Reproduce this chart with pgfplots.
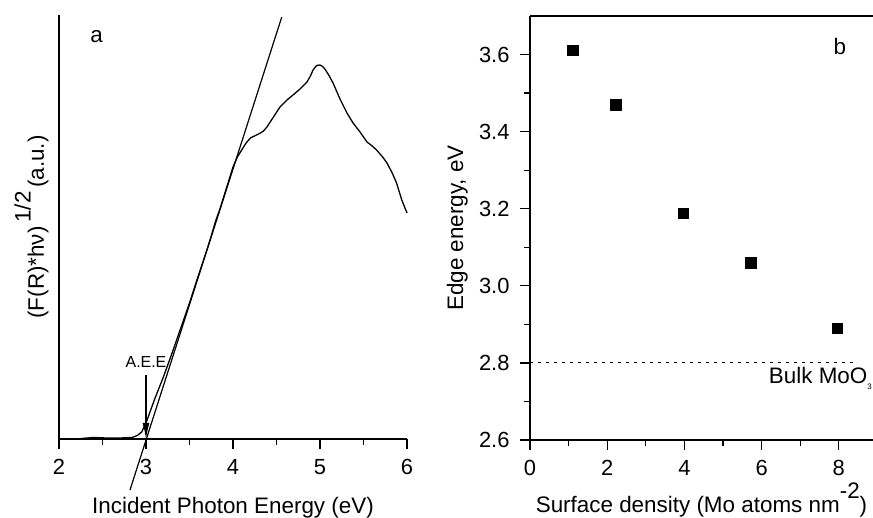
\documentclass[border=0pt]{standalone}
\usepackage{fontspec}
\setmainfont{Liberation Sans}
\usepackage{pgfplots}
\pgfplotsset{compat=1.18}
\usetikzlibrary{arrows.meta}
\newcommand{\bigf}{\fontsize{22.5}{26}\selectfont}
\newcommand{\tickf}{\fontsize{22}{26}\selectfont}
\pgfplotsset{
  common/.style={
    scale only axis, anchor=south west,
    axis lines=left, axis line style={-, line width=1.2bp},
    tick align=outside, major tick length=10bp, minor tick length=6bp,
    every tick/.style={black, line width=1.2bp},
    every minor tick/.style={black, line width=1.2bp},
    tick label style={font=\tickf}, label style={font=\bigf},
    xticklabel style={yshift=-7bp},
    yticklabel style={xshift=-7bp},
    /pgf/number format/assume math mode=true,
    clip=false,
  }
}
\begin{document}
\begin{tikzpicture}
\path[use as bounding box] (-59bp,-79bp) rectangle (814bp,439bp);
\begin{axis}[common,
  at={(0bp,0bp)}, width=348bp, height=424bp,
  xmin=2, xmax=6, ymin=0, ymax=424,
  xtick={2,3,4,5,6}, minor xtick={2.5,3.5,4.5,5.5},
  ytick=\empty,
  xlabel={Incident Photon Energy (eV)},
  xlabel style={at={(rel axis cs:0.5,0)}, anchor=base, yshift=-74bp},
  ylabel={(F(R)*hν)\,\raisebox{0.6em}{1/2}\,(a.u.)},
  ylabel style={at={(rel axis cs:0,0.5)}, anchor=base, yshift=15bp},
]
\addplot[black, line width=1.3bp, line join=round] coordinates {
(2.25,0.5) (2.40,1.5) (2.55,1.0) (2.70,1.0) (2.84,1.5) (2.90,3.5) (2.95,7)
(3.00,16) (3.05,28) (3.10,40) (3.20,62) (3.30,86) (3.40,111) (3.50,136)
(3.60,163) (3.70,189) (3.75,203) (3.80,218) (3.85,230) (3.90,244) (3.95,258)
(4.00,272) (4.05,282) (4.10,289) (4.15,296) (4.20,301) (4.27,304) (4.31,305.7)
(4.35,308) (4.39,312) (4.45,320) (4.54,332) (4.62,339) (4.69,344) (4.77,350)
(4.85,357) (4.89,363) (4.92,369) (4.96,373.5) (5.00,374) (5.03,372.5) (5.06,369.5)
(5.10,364) (5.15,356) (5.23,340) (5.31,326) (5.38,316) (5.46,307) (5.54,297)
(5.60,293) (5.65,289) (5.72,282) (5.77,276) (5.83,266) (5.88,256) (5.94,239) (6.00,226)
};
\addplot[black, line width=1.2bp] coordinates {(2.816,-51) (4.56,421.8)};
\draw[black, line width=1.2bp, -{Latex[length=16bp,width=7bp]}] (axis cs:3.0,64) -- (axis cs:3.0,0);
\node[font=\fontsize{16}{19}\selectfont] at (axis cs:3.0,77) {A.E.E};
\node[font=\bigf] at (axis cs:2.433,402) {a};
\end{axis}
\begin{axis}[common,
  at={(471bp,-1bp)}, width=343bp, height=424bp,
  xmin=0, xmax=8.886, ymin=2.6, ymax=3.7,
  xtick={0,2,4,6,8}, minor xtick={1,3,5,7},
  ytick={2.6,2.8,3.0,3.2,3.4,3.6}, minor ytick={2.7,2.9,3.1,3.3,3.5},
  yticklabel style={/pgf/number format/.cd, fixed, fixed zerofill, precision=1},
  xlabel={Surface density (Mo atoms nm\raisebox{0.6em}{-2})},
  xlabel style={at={(rel axis cs:0.5,0)}, anchor=base, yshift=-72bp},
  ylabel={Edge energy, eV},
  ylabel style={at={(rel axis cs:0,0.5)}, anchor=base, yshift=67bp},
]
\draw[line width=1.2bp] (rel axis cs:0,1) -- (rel axis cs:1,1);
\addplot[black, line width=1bp, dash pattern=on 3bp off 5bp] coordinates {(0,2.8) (8.37,2.8)};
\addplot[only marks, mark=square*, mark size=5.3bp, black] coordinates {
(1.106,3.611) (2.22,3.470) (3.97,3.188) (5.72,3.060) (7.96,2.890)
};
\node[font=\bigf] at (axis cs:8.03,3.62) {b};
\node[font=\bigf, anchor=east, inner sep=0pt] at (axis cs:8.86,2.76) {Bulk MoO\raisebox{-0.25em}{\fontsize{8}{9}\selectfont 3}};
\end{axis}
\end{tikzpicture}
\end{document}
